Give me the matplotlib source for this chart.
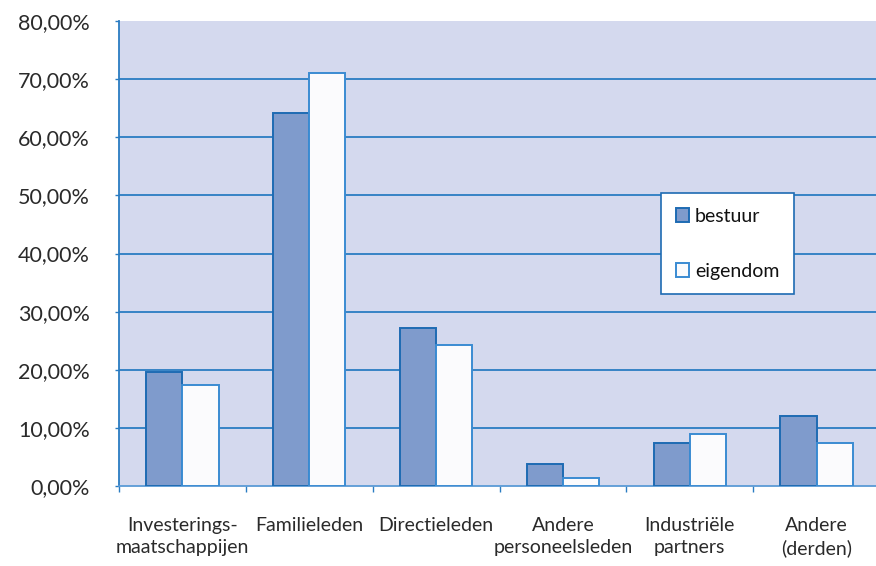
import matplotlib
matplotlib.use("Agg")
import matplotlib.pyplot as plt
import numpy as np
from matplotlib.ticker import FixedLocator

categories = ["Investerings-\nmaatschappijen", "Familieleden", "Directieleden",
              "Andere\npersoneelsleden", "Industriële\npartners", "Andere\n(derden)"]
bestuur = [19.6, 64.2, 27.1, 3.8, 7.4, 12.0]
eigendom = [17.3, 71.0, 24.2, 1.4, 9.0, 7.4]
y_ticks = [0, 10, 20, 30, 40, 50, 60, 70, 80]
y_labels = ["0,00%", "10,00%", "20,00%", "30,00%", "40,00%", "50,00%", "60,00%", "70,00%", "80,00%"]

plt.rcParams["font.family"] = ["Lato", "DejaVu Sans"]

W, H = 876, 566
fig = plt.figure(figsize=(W / 100, H / 100), dpi=100)
left, right, top, bottom = 119, 880, 21, 486
ax = fig.add_axes([left / W, (H - bottom) / H, (right - left) / W, (bottom - top) / H])

bg = "#D4D9EE"
grid_c = "#2A7CC2"
ax.set_facecolor(bg)

x = np.arange(len(categories))
bw = 0.285
ax.bar(x - bw / 2, bestuur, bw, color="#7F9BCC", edgecolor="#1E6BB3", linewidth=1.4,
       label="bestuur", zorder=3)
ax.bar(x + bw / 2, eigendom, bw, color="#FBFBFD", edgecolor="#3A8BD2", linewidth=1.4,
       label="eigendom", zorder=3)

ax.set_xlim(-0.5, len(categories) - 0.5)
ax.set_ylim(0, 80)
ax.set_yticks(y_ticks)
ax.set_yticklabels(y_labels, fontsize=15.5, color="#2a2a2a")
for yv in y_ticks[1:-1]:
    ax.axhline(yv, color=grid_c, linewidth=1.3, zorder=1)

ax.set_xticks(x)
ax.set_xticklabels(categories, fontsize=14, color="#2a2a2a", linespacing=1.4)
ax.tick_params(axis="x", length=0, pad=22)
ax.xaxis.set_minor_locator(FixedLocator(np.arange(len(categories) + 1) - 0.5))
ax.tick_params(axis="x", which="minor", length=4, color=grid_c, width=1)
ax.tick_params(axis="y", length=3, color=grid_c, width=1, pad=18)

for s in ["top", "right"]:
    ax.spines[s].set_visible(False)
ax.spines["left"].set_color(grid_c)
ax.spines["left"].set_linewidth(1.3)
ax.spines["bottom"].set_color("#5A9AD6")
ax.spines["bottom"].set_linewidth(1.3)

leg = ax.legend(loc="upper left", bbox_to_anchor=((661 - left) / (right - left), 1 - (193 - top) / (bottom - top)),
                frameon=True, fancybox=False, labelspacing=1.95,
                handlelength=0.7, handleheight=0.7, handletextpad=0.3,
                borderpad=0.75, borderaxespad=0, prop={"size": 14})
leg.get_frame().set_edgecolor("#1E6BB3")
leg.get_frame().set_linewidth(1.2)
leg.get_frame().set_facecolor("white")
leg.get_frame().set_alpha(1)
for t in leg.get_texts():
    t.set_color("#111111")

fig.savefig("out.png", dpi=100)
